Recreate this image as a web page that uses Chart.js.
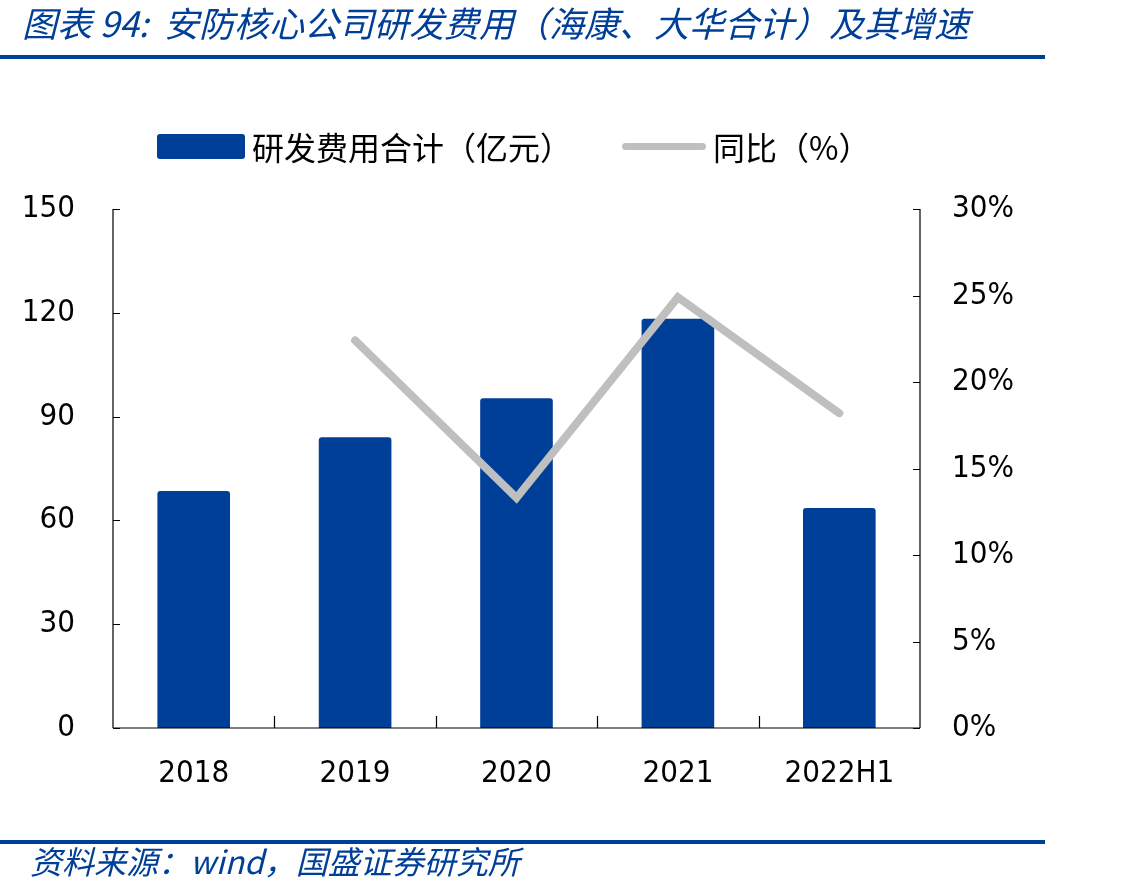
<!DOCTYPE html>
<html>
<head>
<meta charset="utf-8">
<script src="https://cdn.jsdelivr.net/npm/chart.js@4/dist/chart.umd.min.js"></script>
<style>
  html, body { margin: 0; padding: 0; background: #fff; }
  #wrap { position: relative; width: 1124px; height: 894px; overflow: hidden; }
  #myChart { position: absolute; left: 0; top: 0; }
  .title {
    position: absolute; left: 22px; top: -4px;
    font: italic 35px "Noto Sans CJK SC", sans-serif; color: #003f98;
    white-space: nowrap;
  }
  .rule { position: absolute; left: 0; width: 1045px; height: 4px; background: #003f98; }
  .source {
    position: absolute; left: 30px; top: 837px;
    font: italic 32px "Noto Sans CJK SC", sans-serif; color: #003f98;
    white-space: nowrap;
  }
  .legend { position: absolute; top: 118px; font: 32px "Noto Sans CJK SC", sans-serif; color: #000; white-space: nowrap; }
  .legend span { vertical-align: middle; }
  .swatch-bar { display: inline-block; width: 88px; height: 25px; background: #003f98; border-radius: 3px; margin-right: 7px; }
  .swatch-line { display: inline-block; width: 84px; height: 7px; background: #bfbfbf; border-radius: 4px; margin-right: 7px; }
</style>
</head>
<body>
<div id="wrap">
  <canvas id="myChart" width="1124" height="894"></canvas>
  <div class="title">图表 94:&nbsp; 安防核心公司研发费用（海康、大华合计）及其增速</div>
  <div class="rule" style="top:55px"></div>
  <div class="legend" style="left:157px"><span class="swatch-bar"></span><span>研发费用合计（亿元）</span></div>
  <div class="legend" style="left:622px"><span class="swatch-line"></span><span>同比（%）</span></div>
  <div class="rule" style="top:840px"></div>
  <div class="source">资料来源：wind，国盛证券研究所</div>
</div>
<script>
// Data
const categories = ["2018", "2019", "2020", "2021", "2022H1"];
const rdExpense = [68.5, 84, 95.3, 118.3, 63.6];   // 亿元
const yoyGrowth = [null, 22.4, 13.3, 24.9, 18.2];  // %

const axisFont = { family: "'Liberation Sans Narrow', 'DejaVu Sans Condensed', sans-serif", size: 31 };

// Draw the short inward tick marks and the axis lines
const axisLinesPlugin = {
  id: "axisLines",
  afterDatasetsDraw: (chart) => {
    const { ctx, chartArea } = chart;
    const { left, right, top, bottom } = chartArea;
    const yL = chart.scales.y;
    const yR = chart.scales.y1;
    const x = chart.scales.x;

    ctx.save();
    ctx.strokeStyle = "#000";
    ctx.lineWidth = 1.2;
    ctx.beginPath();
    // axis lines
    ctx.moveTo(left, top); ctx.lineTo(left, bottom);
    ctx.moveTo(right, top); ctx.lineTo(right, bottom);
    ctx.moveTo(left, bottom); ctx.lineTo(right, bottom);
    // left ticks
    yL.ticks.forEach((t) => {
      const py = Math.round(yL.getPixelForValue(t.value)) + 0.5;
      ctx.moveTo(left, py); ctx.lineTo(left + 7, py);
    });
    // right ticks
    yR.ticks.forEach((t) => {
      const py = Math.round(yR.getPixelForValue(t.value)) + 0.5;
      ctx.moveTo(right, py); ctx.lineTo(right - 7, py);
    });
    // category boundary ticks
    for (let i = 1; i < categories.length; i++) {
      const px = Math.round((x.getPixelForValue(i - 1) + x.getPixelForValue(i)) / 2) + 0.5;
      ctx.moveTo(px, bottom); ctx.lineTo(px, bottom - 12);
    }
    ctx.stroke();
    ctx.restore();
  },
};

const ctx = document.getElementById("myChart").getContext("2d");

new Chart(ctx, {
  data: {
    labels: categories,
    datasets: [
      {
        type: "line",
        label: "同比（%）",
        data: yoyGrowth,
        yAxisID: "y1",
        borderColor: "#bfbfbf",
        borderWidth: 8,
        borderCapStyle: "round",
        borderJoinStyle: "miter",
        pointRadius: 0,
        spanGaps: true,
        tension: 0,
        order: 0,
      },
      {
        type: "bar",
        label: "研发费用合计（亿元）",
        data: rdExpense,
        yAxisID: "y",
        backgroundColor: "#003f98",
        borderRadius: { topLeft: 3, topRight: 3 },
        borderSkipped: "bottom",
        categoryPercentage: 1,
        barPercentage: 0.45,
        order: 1,
      },
    ],
  },
  options: {
    responsive: false,
    animation: false,
    layout: { padding: { left: 0, right: 0, top: 209, bottom: 0 } },
    plugins: {
      legend: { display: false },
      tooltip: { enabled: false },
    },
    scales: {
      x: {
        offset: true,
        grid: { display: false },
        border: { display: false },
        ticks: { color: "#000", font: axisFont, padding: 19 },
        afterFit: (scale) => { scale.height = 166; },
      },
      y: {
        position: "left",
        min: 0,
        max: 150,
        grid: { display: false },
        border: { display: false },
        ticks: { stepSize: 30, color: "#000", font: axisFont, padding: 30 },
        afterFit: (scale) => { scale.width = 113; },
      },
      y1: {
        position: "right",
        min: 0,
        max: 30,
        grid: { display: false },
        border: { display: false },
        ticks: {
          stepSize: 5,
          color: "#000",
          font: axisFont,
          padding: 24,
          callback: (v) => v + "%",
        },
        afterFit: (scale) => { scale.width = 204; },
      },
    },
  },
  plugins: [axisLinesPlugin],
});
</script>
</body>
</html>
